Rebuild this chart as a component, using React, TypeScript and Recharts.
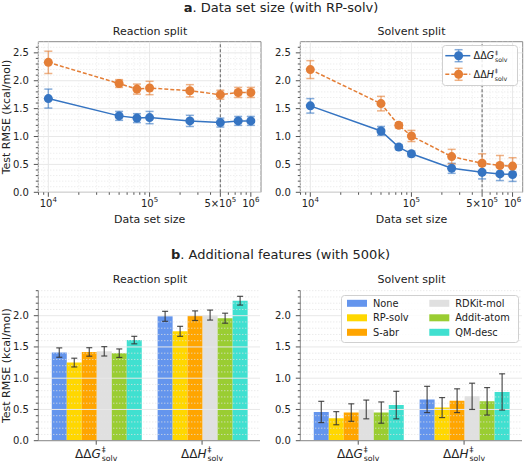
import React from 'react'
import {
  LineChart,
  Line,
  BarChart,
  Bar,
  XAxis,
  YAxis,
  ErrorBar,
  ReferenceLine,
  ReferenceArea,
  Legend
} from 'recharts'

// (a) data set size, reaction split / solvent split
const sizes = [1e4, 5e4, 7.5e4, 1e5, 2.5e5, 5e5, 7.5e5, 1e6]
const rxnG = [1.68, 1.37, 1.33, 1.34, 1.28, 1.25, 1.28, 1.28]
const rxnGErr = [0.17, 0.08, 0.08, 0.11, 0.1, 0.08, 0.08, 0.08]
const rxnH = [2.33, 1.95, 1.85, 1.87, 1.82, 1.75, 1.79, 1.79]
const rxnHErr = [0.2, 0.07, 0.09, 0.12, 0.11, 0.08, 0.09, 0.09]
const solvG = [1.55, 1.1, 0.81, 0.69, 0.43, 0.36, 0.33, 0.32]
const solvGErr = [0.13, 0.08, 0.045, 0.05, 0.09, 0.12, 0.12, 0.125]
const solvH = [2.2, 1.59, 1.2, 1.01, 0.64, 0.52, 0.48, 0.47]
const solvHErr = [0.16, 0.13, 0.045, 0.1, 0.13, 0.17, 0.18, 0.15]
const chosenSize = 5e5

// (b) additional features at 500k
const targets = ['G', 'H']
const features = ['None', 'RP-solv', 'S-abr', 'RDKit-mol', 'Addit-atom', 'QM-desc']
const featureColors = ['#6495ed', '#ffd700', '#ffa500', '#e0e0e0', '#9acd32', '#40e0d0']
const rxnFeatG = [1.41, 1.25, 1.42, 1.43, 1.4, 1.61]
const rxnFeatGErr = [0.075, 0.07, 0.068, 0.075, 0.068, 0.06]
const rxnFeatH = [1.99, 1.75, 2.0, 2.01, 1.96, 2.24]
const rxnFeatHErr = [0.08, 0.08, 0.077, 0.08, 0.08, 0.07]
const solvFeatG = [0.46, 0.36, 0.45, 0.5, 0.45, 0.57]
const solvFeatGErr = [0.17, 0.105, 0.14, 0.15, 0.17, 0.22]
const solvFeatH = [0.66, 0.53, 0.64, 0.71, 0.63, 0.78]
const solvFeatHErr = [0.21, 0.16, 0.19, 0.21, 0.22, 0.29]

// ticks
const xMajor = [1e4, 1e5, 5e5, 1e6]
const xMajorBase = ['10', '10', '5×10', '10']
const xMajorExp = ['4', '5', '5', '6']
const xMinor = [8e3, 9e3, 2e4, 3e4, 4e4, 5e4, 6e4, 7e4, 8e4, 9e4, 2e5, 3e5, 4e5, 6e5, 7e5, 8e5, 9e5]
const yMajor = [0, 0.5, 1, 1.5, 2, 2.5]
const yMinor = [0.1, 0.2, 0.3, 0.4, 0.6, 0.7, 0.8, 0.9, 1.1, 1.2, 1.3, 1.4, 1.6, 1.7, 1.8, 1.9, 2.1, 2.2, 2.3, 2.4, 2.6]

const xDomain = [7960, 1.26e6]
const yTopA = 2.7
const yTopB = 2.4

const BLUE = '#3574c2'
const ORANGE = '#e47e36'
const FRAME = '#8a8a8a'
const TEXT = '#222'
const TICK = '#555'

// ΔΔX with stacked ‡ / solv scripts
const MathLabel = ({ x, y, letter, size, anchor }: any) => {
  const s = size * 0.65
  return (
    <text x={x} y={y} fontSize={size} textAnchor={anchor} fill={TEXT}>
      ΔΔ<tspan fontStyle="italic">{letter}</tspan>
      <tspan fontSize={s} dx={size * 0.08} dy={-size * 0.483}>‡</tspan>
      <tspan fontSize={s} dx={-s * 0.5} dy={size * 0.767}>solv</tspan>
    </text>
  )
}

const LogTick = ({ x, y, payload }: any) => {
  const i = xMajor.indexOf(payload.value)
  const major = i >= 0
  return (
    <g>
      <line x1={x} x2={x} y1={y} y2={y + (major ? 4.5 : 2.5)} stroke={TICK} />
      {major && (
        <text x={x} y={y + 14.4} fontSize={10} textAnchor="middle" fill={TEXT}>
          {xMajorBase[i]}
          <tspan fontSize={7} dy={-4.5}>{xMajorExp[i]}</tspan>
        </text>
      )}
    </g>
  )
}

const ValueTick = ({ x, y, payload }: any) => {
  const major = yMajor.includes(payload.value)
  return (
    <g>
      <line x1={x} x2={x - (major ? 4.5 : 2.5)} y1={y} y2={y} stroke={TICK} />
      {major && (
        <text x={x - 9.5} y={y} dy="0.35em" fontSize={10} textAnchor="end" fill={TEXT}>
          {payload.value.toFixed(1)}
        </text>
      )}
    </g>
  )
}

const TargetTick = ({ x, y, payload }: any) => (
  <g>
    <line x1={x} x2={x} y1={y} y2={y + 4} stroke={TICK} />
    <MathLabel x={x} y={y + 17.3} letter={payload.value} size={12} anchor="middle" />
  </g>
)

const YTitle = ({ viewBox }: any) => (
  <text
    transform={`translate(9.5, ${viewBox.y + viewBox.height / 2}) rotate(-90)`}
    textAnchor="middle"
    fontSize={11}
    fill={TEXT}
  >
    Test RMSE (kcal/mol)
  </text>
)

const XTitle = ({ viewBox }: any) => (
  <text x={viewBox.x + viewBox.width / 2} y={viewBox.y + 30.2} textAnchor="middle" fontSize={11} fill={TEXT}>
    Data set size
  </text>
)

const SizeLegend = ({ payload }: any) => {
  const items = [...(payload || [])].sort((a: any, b: any) => targets.indexOf(a.value) - targets.indexOf(b.value))
  return (
    <svg width={76} height={41}>
      <rect x={0.5} y={0.5} width={75} height={40} rx={3} fill="#fff" fillOpacity={0.85} stroke="#d0d0d0" />
      {items.map((p: any, i: number) => {
        const cy = 10.7 + i * 18.6
        return (
          <g key={p.value}>
            <line x1={3.3} x2={28.3} y1={cy} y2={cy} stroke={p.color} strokeWidth={1.5} strokeDasharray={i ? '4 2' : undefined} />
            <g stroke={p.color} strokeOpacity={0.6} strokeWidth={1.5}>
              <line x1={16.6} x2={16.6} y1={cy - 6} y2={cy + 6} />
              <line x1={12.6} x2={20.6} y1={cy - 6} y2={cy - 6} />
              <line x1={12.6} x2={20.6} y1={cy + 6} y2={cy + 6} />
            </g>
            <circle cx={16.6} cy={cy} r={4.5} fill={p.color} />
            <MathLabel x={31.6} y={cy + 3.5} letter={p.value} size={9.6} anchor="start" />
          </g>
        )
      })}
    </svg>
  )
}

const FeatureLegend = ({ payload }: any) => {
  const items = [...(payload || [])].sort((a: any, b: any) => features.indexOf(a.value) - features.indexOf(b.value))
  return (
    <svg width={178} height={48}>
      <rect x={0.5} y={0.5} width={177} height={47} rx={3} fill="#fff" fillOpacity={0.85} stroke="#d0d0d0" />
      {items.map((p: any, i: number) => {
        const col = Math.floor(i / 3)
        const cy = 8.3 + (i % 3) * 14.5
        const x0 = col ? 88.3 : 6
        return (
          <g key={p.value}>
            <rect x={x0} y={cy - 3.5} width={20} height={7} fill={p.color} />
            <text x={x0 + 26} y={cy + 3.6} fontSize={9.8} fill={TEXT}>
              {p.value}
            </text>
          </g>
        )
      })}
    </svg>
  )
}

const xTicks = [...xMinor, ...xMajor].sort((a, b) => a - b)

function SizePanel({ left, g, gErr, h, hErr, yLabel, legend }: any) {
  const rows = sizes.map((s, i) => ({ size: s, g: g[i], gErr: gErr[i], h: h[i], hErr: hErr[i] }))
  const yTicks = [...yMajor, ...yMinor].filter(v => v <= yTopA).sort((a, b) => a - b)
  return (
    <div style={{ position: 'absolute', left, top: 0 }}>
      <LineChart width={262} height={230} data={rows} margin={{ top: 41.7, right: left ? 1.3 : 1, bottom: 0, left: 0 }}>
        {yTicks.map(v => (
          <ReferenceLine key={'y' + v} y={v} stroke={yMajor.includes(v) ? '#e8e8e8' : '#e6e6e6'} strokeDasharray={yMajor.includes(v) ? undefined : '1 2'} />
        ))}
        {xTicks.map(v => (
          <ReferenceLine key={'x' + v} x={v} stroke={xMajor.includes(v) ? '#e8e8e8' : '#ececec'} strokeDasharray={xMajor.includes(v) ? undefined : '1 2'} />
        ))}
        <XAxis
          dataKey="size"
          type="number"
          scale="log"
          domain={xDomain}
          allowDataOverflow
          ticks={xTicks}
          interval={0}
          tickSize={0}
          tickMargin={0}
          axisLine={false}
          tickLine={false}
          height={37.7}
          tick={<LogTick />}
          label={<XTitle />}
        />
        <YAxis
          type="number"
          domain={[0, yTopA]}
          allowDataOverflow
          ticks={yTicks}
          interval={0}
          tickSize={0}
          tickMargin={0}
          axisLine={false}
          tickLine={false}
          width={38.3}
          tick={<ValueTick />}
          label={yLabel ? <YTitle /> : undefined}
        />
        <ReferenceLine x={chosenSize} stroke="#777" strokeDasharray="3 2" strokeWidth={1.2} />
        <ReferenceArea x1={xDomain[0]} x2={xDomain[1]} y1={0} y2={yTopA} fill="none" stroke={FRAME} strokeWidth={1} />
        <Line
          dataKey="g"
          name="G"
          stroke={BLUE}
          strokeWidth={1.5}
          dot={{ r: 4.5, fill: BLUE, stroke: BLUE, strokeWidth: 0 }}
          activeDot={false}
          isAnimationActive={false}
        >
          <ErrorBar dataKey="gErr" direction="y" width={4} stroke={BLUE} strokeOpacity={0.6} strokeWidth={1.5} />
        </Line>
        <Line
          dataKey="h"
          name="H"
          stroke={ORANGE}
          strokeWidth={1.5}
          strokeDasharray="4 2"
          dot={{ r: 4.5, fill: ORANGE, stroke: ORANGE, strokeWidth: 0, strokeDasharray: '' }}
          activeDot={false}
          isAnimationActive={false}
        >
          <ErrorBar dataKey="hErr" direction="y" width={4} stroke={ORANGE} strokeOpacity={0.6} strokeWidth={1.5} />
        </Line>
        {legend && (
          <Legend
            layout="horizontal"
            align="center"
            verticalAlign="middle"
            content={<SizeLegend />}
            wrapperStyle={{ left: 179.7, top: 45, width: 76, height: 41 }}
          />
        )}
      </LineChart>
    </div>
  )
}

function FeaturePanel({ left, G, GErr, H, HErr, baseline, yLabel, legend }: any) {
  const rows = targets.map((t, ti) => {
    const vals = ti ? H : G
    const errs = ti ? HErr : GErr
    const row: any = { target: t }
    features.forEach((f, i) => {
      row[f] = vals[i]
      row[f + '_err'] = errs[i]
    })
    return row
  })
  const yTicks = [...yMajor, ...yMinor].filter(v => v <= yTopB).sort((a, b) => a - b)
  return (
    <div style={{ position: 'absolute', left, top: 230 }}>
      <BarChart
        width={262}
        height={234}
        data={rows}
        margin={{ top: 60.7, right: 2, bottom: 0, left: 0 }}
        barCategoryGap="8%"
        barGap={0}
      >
        {yTicks.map(v => (
          <ReferenceLine key={'y' + v} y={v} stroke={yMajor.includes(v) ? '#e8e8e8' : '#e2e2e2'} strokeDasharray={yMajor.includes(v) ? undefined : '1 2'} />
        ))}
        <XAxis
          dataKey="target"
          padding={{ left: 5, right: 5 }}
          interval={0}
          tickSize={0}
          tickMargin={0}
          tickLine={false}
          axisLine={{ stroke: FRAME }}
          height={23.3}
          tick={<TargetTick />}
        />
        <XAxis
          xAxisId="num"
          orientation="top"
          type="number"
          domain={[-0.5, 1.5]}
          allowDataOverflow
          padding={{ left: 5, right: 5 }}
          height={0}
          tick={false}
          tickLine={false}
          axisLine={{ stroke: FRAME }}
        />
        <YAxis
          type="number"
          domain={[0, yTopB]}
          allowDataOverflow
          ticks={yTicks}
          interval={0}
          tickSize={0}
          tickMargin={0}
          tickLine={false}
          axisLine={{ stroke: FRAME }}
          width={38.3}
          tick={<ValueTick />}
          label={yLabel ? <YTitle /> : undefined}
        />
        <YAxis
          yAxisId="r"
          orientation="right"
          type="number"
          domain={[0, yTopB]}
          width={0}
          tick={false}
          tickLine={false}
          axisLine={{ stroke: FRAME }}
        />
        {features.map((f, i) => (
          <Bar key={f} dataKey={f} name={f} fill={featureColors[i]} isAnimationActive={false}>
            <ErrorBar dataKey={f + '_err'} direction="y" width={3} stroke="#333" strokeOpacity={0.85} strokeWidth={1.2} />
          </Bar>
        ))}
        {baseline.map((v: number, i: number) => (
          <ReferenceLine
            key={'b' + i}
            xAxisId="num"
            segment={[{ x: i - 0.46, y: v }, { x: i + 0.46, y: v }]}
            stroke="#777"
            strokeDasharray="4 2"
            strokeWidth={1.2}
          />
        ))}
        {legend && (
          <Legend
            layout="horizontal"
            align="center"
            verticalAlign="middle"
            content={<FeatureLegend />}
            wrapperStyle={{ left: 79, top: 64.7, width: 178, height: 48 }}
          />
        )}
      </BarChart>
    </div>
  )
}

const at = sizes.indexOf(chosenSize)

export default function App() {
  return (
    <div
      style={{
        position: 'absolute',
        left: 0,
        top: 0,
        width: 524,
        height: 464,
        background: '#fff',
        fontFamily: '"DejaVu Sans", sans-serif'
      }}
    >
      <svg width={524} height={464} style={{ position: 'absolute', left: 0, top: 0 }}>
        <text x={281} y={11.7} fontSize={13} textAnchor="middle" fill={TEXT}>
          <tspan fontWeight="bold">a</tspan>. Data set size (with RP-solv)
        </text>
        <text x={150} y={35} fontSize={11} textAnchor="middle" fill={TEXT}>Reaction split</text>
        <text x={411.5} y={35} fontSize={11} textAnchor="middle" fill={TEXT}>Solvent split</text>
        <text x={280.5} y={259.3} fontSize={13} textAnchor="middle" fill={TEXT}>
          <tspan fontWeight="bold">b</tspan>. Additional features (with 500k)
        </text>
        <text x={150} y={283.3} fontSize={11} textAnchor="middle" fill={TEXT}>Reaction split</text>
        <text x={411.5} y={283.3} fontSize={11} textAnchor="middle" fill={TEXT}>Solvent split</text>
      </svg>
      <SizePanel left={0} g={rxnG} gErr={rxnGErr} h={rxnH} hErr={rxnHErr} yLabel />
      <SizePanel left={262} g={solvG} gErr={solvGErr} h={solvH} hErr={solvHErr} legend />
      <FeaturePanel
        left={0}
        G={rxnFeatG}
        GErr={rxnFeatGErr}
        H={rxnFeatH}
        HErr={rxnFeatHErr}
        baseline={[rxnG[at], rxnH[at]]}
        yLabel
      />
      <FeaturePanel
        left={262}
        G={solvFeatG}
        GErr={solvFeatGErr}
        H={solvFeatH}
        HErr={solvFeatHErr}
        baseline={[solvG[at], solvH[at]]}
        legend
      />
    </div>
  )
}
